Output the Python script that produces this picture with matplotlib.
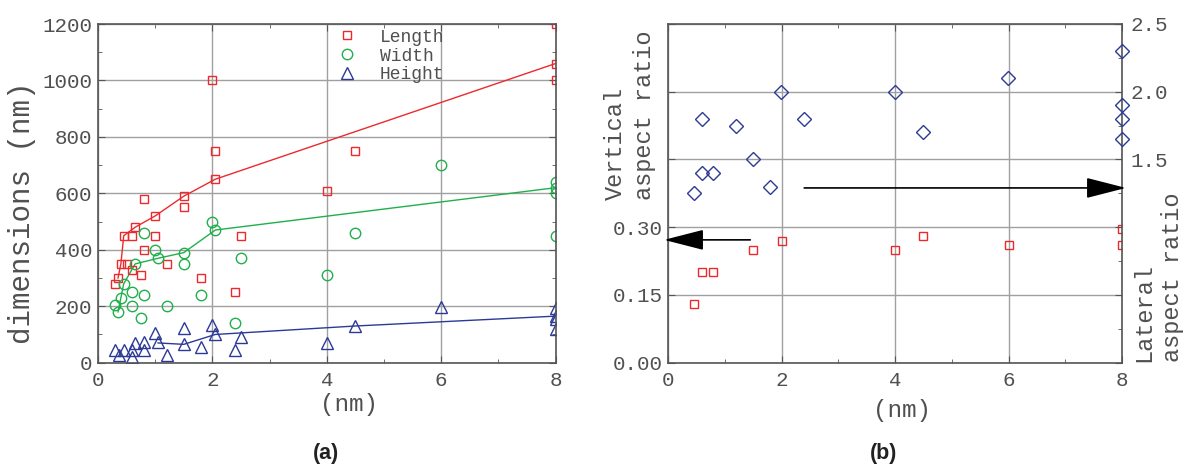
import matplotlib
matplotlib.use("Agg")
from matplotlib import pyplot as plt
from matplotlib.ticker import MultipleLocator, FixedLocator

# ---- panel (a): particle dimensions vs (nm)
len_x = [2.0, 2.05, 2.05, 0.8, 1.5, 1.5, 1.0, 0.65, 0.45, 0.6, 1.0, 2.5, 0.8, 0.4, 0.5,
         0.6, 1.2, 0.75, 0.35, 0.3, 1.8, 2.4, 4.0, 4.5, 8.0, 8.0, 8.0]
len_y = [1000, 750, 650, 580, 590, 550, 520, 480, 450, 450, 450, 450, 400, 350, 350,
         330, 350, 310, 300, 280, 300, 250, 610, 750, 1200, 1060, 1000]
wid_x = [2.0, 2.05, 0.8, 1.0, 1.05, 1.5, 1.5, 0.65, 2.5, 0.45, 0.6, 0.8, 1.8, 0.4,
         0.3, 0.6, 1.2, 0.35, 0.75, 2.4, 4.0, 4.5, 6.0, 8.0, 8.0, 8.0, 8.0]
wid_y = [500, 470, 460, 400, 370, 390, 350, 350, 370, 280, 250, 240, 240, 228,
         204, 200, 200, 181, 160, 140, 310, 460, 700, 640, 620, 600, 450]
hgt_x = [2.0, 1.5, 1.0, 2.05, 2.5, 0.65, 0.8, 1.05, 1.5, 1.8, 0.8, 0.3, 0.45, 0.6,
         2.4, 1.2, 0.37, 0.6, 4.0, 4.5, 6.0, 8.0, 8.0, 8.0, 8.0]
hgt_y = [135, 122, 104, 100, 92, 69, 74, 72, 65, 55, 45, 45, 45, 45,
         45, 27, 27, 21, 70, 130, 196, 195, 165, 155, 118]

# trend lines
len_fit_x = [0.35, 0.4, 0.45, 0.65, 1.0, 1.5, 2.05, 8.0]
len_fit_y = [300, 350, 450, 480, 520, 590, 650, 1060]
wid_fit_x = [0.35, 0.45, 0.65, 1.05, 1.5, 2.05, 8.0]
wid_fit_y = [180, 280, 350, 370, 390, 470, 620]
hgt_fit_x = [1.05, 1.5, 2.05, 4.5, 8.0]
hgt_fit_y = [70, 65, 100, 130, 165]

# ---- panel (b): aspect ratios
lat_x = [0.45, 0.6, 0.6, 0.8, 1.2, 1.5, 1.8, 2.0, 2.4, 4.0, 4.5, 6.0, 8.0, 8.0, 8.0, 8.0]
lat_y = [1.25, 1.80, 1.40, 1.40, 1.75, 1.50, 1.30, 2.00, 1.80, 2.00, 1.70, 2.10, 2.30, 1.90, 1.80, 1.65]
vert_x = [0.45, 0.6, 0.8, 1.5, 2.0, 4.0, 4.5, 6.0, 8.0, 8.0]
vert_y = [0.13, 0.20, 0.20, 0.25, 0.27, 0.25, 0.28, 0.26, 0.295, 0.26]

RED = "#ec2a2e"
GREEN = "#1fb04c"
BLUE = "#2c3a96"
TXT = "#505050"
SPINE = "#555555"
GRID = "#a0a0a0"

plt.rcParams["font.family"] = ["Liberation Mono", "DejaVu Sans Mono"]
plt.rcParams["text.color"] = TXT

fig = plt.figure(figsize=(11.89, 4.68), dpi=100)
ax1 = fig.add_axes([98 / 1189, 105.3 / 468, 457.6 / 1189, 338.7 / 468])
ax2 = fig.add_axes([668 / 1189, 105.3 / 468, 454 / 1189, 338.7 / 468])


def style_axes(ax):
    for s in ax.spines.values():
        s.set_color(SPINE)
        s.set_linewidth(1.2)
    ax.tick_params(which="both", direction="in", colors=SPINE, labelcolor=TXT,
                   labelsize=15, top=True)
    ax.tick_params(which="major", length=5)
    ax.tick_params(which="minor", length=3)
    ax.grid(True, which="major", color=GRID, lw=1)
    ax.set_axisbelow(True)


# ---------------- (a)
style_axes(ax1)
ax1.tick_params(which="both", right=True)
ax1.tick_params(axis="x", pad=6)
ax1.tick_params(axis="y", pad=4)
ax1.plot(len_fit_x, len_fit_y, color=RED, lw=1)
ax1.plot(wid_fit_x, wid_fit_y, color=GREEN, lw=1)
ax1.plot(hgt_fit_x, hgt_fit_y, color=BLUE, lw=1)
ax1.plot(len_x, len_y, ls="none", marker="s", ms=6, mfc="none", mec=RED, mew=1, label="Length")
ax1.plot(wid_x, wid_y, ls="none", marker="o", ms=7.5, mfc="none", mec=GREEN, mew=1, label="Width")
ax1.plot(hgt_x, hgt_y, ls="none", marker="^", ms=8, mfc="none", mec=BLUE, mew=1, label="Height")
ax1.set_xlim(0, 8)
ax1.set_ylim(0, 1200)
ax1.xaxis.set_major_locator(MultipleLocator(2))
ax1.xaxis.set_minor_locator(MultipleLocator(1))
ax1.yaxis.set_major_locator(MultipleLocator(200))
ax1.yaxis.set_minor_locator(MultipleLocator(100))
leg = ax1.legend(loc="upper left", bbox_to_anchor=(0.486, 1.034), frameon=False,
                 fontsize=13, handlelength=1.2, handletextpad=1.2, labelspacing=0.1)
for t in leg.get_texts():
    t.set_color(TXT)

# ---------------- (b)
style_axes(ax2)
ax2.set_xlim(0, 8)
ax2.set_ylim(0, 0.75)
ax2.xaxis.set_major_locator(MultipleLocator(2))
ax2.xaxis.set_minor_locator(MultipleLocator(1))
ax2.yaxis.set_major_locator(FixedLocator([0, 0.15, 0.30, 0.45, 0.60, 0.75]))
ax2.set_yticklabels(["0.00", "0.15", "0.30", "", "", ""])
ax2.tick_params(axis="x", pad=6)
ax2.tick_params(axis="y", pad=4)
ax2.plot(vert_x, vert_y, ls="none", marker="s", ms=6, mfc="none", mec=RED, mew=1)

ax3 = ax2.twinx()
ax3.set_ylim(0, 2.5)
ax3.yaxis.set_major_locator(FixedLocator([0, 0.5, 1.0, 1.5, 2.0, 2.5]))
ax3.yaxis.set_minor_locator(MultipleLocator(0.25))
ax3.set_yticklabels(["", "", "", "1.5", "2.0", "2.5"])
for s in ax3.spines.values():
    s.set_visible(False)
ax3.tick_params(which="both", direction="in", colors=SPINE, labelcolor=TXT, labelsize=15, pad=6)
ax3.tick_params(which="major", length=5)
ax3.tick_params(which="minor", length=3)
ax3.plot(lat_x, lat_y, ls="none", marker="D", ms=7, mfc="none", mec=BLUE, mew=1, clip_on=False)

# arrows pointing to the relevant axis
ax2.annotate("", xy=(-0.07, 0.272), xytext=(1.45, 0.272), annotation_clip=False,
             arrowprops=dict(arrowstyle="-|>,head_length=1.25,head_width=0.32", mutation_scale=20,
                             color="black", lw=1.2, shrinkA=0, shrinkB=0))
ax2.annotate("", xy=(8.07, 0.387), xytext=(2.4, 0.387), annotation_clip=False,
             arrowprops=dict(arrowstyle="-|>,head_length=1.25,head_width=0.32", mutation_scale=20,
                             color="black", lw=1.2, shrinkA=0, shrinkB=0))

# axis labels
fig.text(22 / 1189, 1 - 213 / 468, "dimensions (nm)", rotation=90, ha="center", va="center", fontsize=21)
fig.text(349 / 1189, 1 - 405 / 468, "(nm)", ha="center", va="center", fontsize=17.5)
fig.text(902 / 1189, 1 - 410 / 468, "(nm)", ha="center", va="center", fontsize=17.5)
fig.text(630 / 1189, 1 - 200 / 468, "Vertical\naspect ratio", rotation=90, ha="center",
         va="bottom", multialignment="left", fontsize=17, linespacing=1.3)
fig.text(1158 / 1189, 1 - 362 / 468, "Lateral\naspect ratio", rotation=90, ha="center",
         va="bottom", multialignment="left", fontsize=17, linespacing=1.3)

fig.text(326 / 1189, 1 - 453 / 468, "(a)", ha="center", va="center", fontsize=15.5,
         fontweight="bold", family="Liberation Sans", color="#222222")
fig.text(884 / 1189, 1 - 453 / 468, "(b)", ha="center", va="center", fontsize=15.5,
         fontweight="bold", family="Liberation Sans", color="#222222")

fig.savefig("out.png", dpi=100)
